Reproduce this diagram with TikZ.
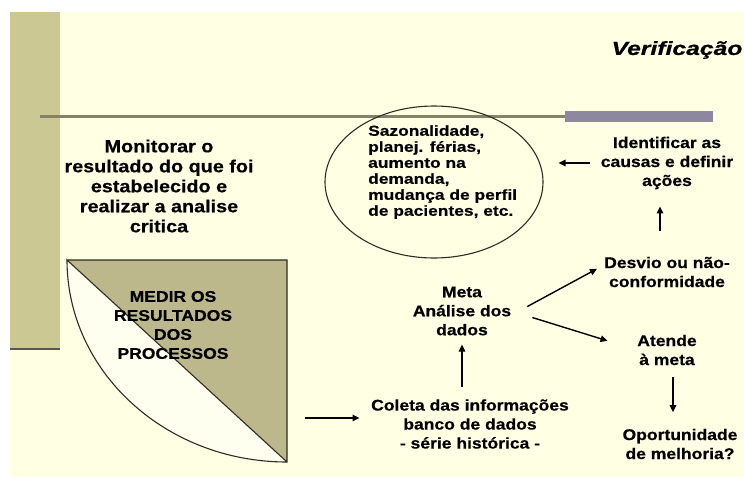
\documentclass[tikz,border=0pt]{standalone}
\usepackage{fontspec}
\setmainfont{Liberation Sans}[FakeStretch=1.13,FakeBold=0.5]
\newfontfamily\ellfont{Liberation Sans}[FakeStretch=1.2,FakeBold=0.5]
\newfontfamily\verfont{Liberation Sans}[FakeStretch=1.3,FakeBold=0.8]
\usetikzlibrary{arrows.meta,shapes.geometric}
\definecolor{bgc}{HTML}{FFFFE3}
\definecolor{barc}{HTML}{CCC894}
\definecolor{khaki}{HTML}{BDB88C}
\definecolor{segc}{HTML}{FFFFF0}
\definecolor{rulec}{HTML}{858367}
\definecolor{purp}{HTML}{8C88A0}
\definecolor{inkc}{HTML}{2E2C22}
\begin{document}
\begin{tikzpicture}[x=1pt,y=-1pt,
  txt/.style={inner sep=0pt, align=center, font=\bfseries\fontsize{15.5}{19}\selectfont},
  arr/.style={draw=black, line width=1.4pt, -{Triangle[length=7pt,width=6.5pt]}},
  outl/.style={draw=inkc, line width=1.1pt}]
\useasboundingbox (0,0) rectangle (744,477);
% background
\fill[white] (0,0) rectangle (744,477);
\fill[bgc] (10,12) rectangle (744,477);
% left bar
\fill[barc] (10,12) rectangle (60,350);
\draw[inkc!80, line width=1.8pt] (10,349) -- (60,349);
% rule
\draw[rulec, line width=3pt] (40,116) -- (566,116);
\fill[purp] (565,111) rectangle (713,122);
% title
\node[inner sep=0pt, font=\verfont\bfseries\itshape\fontsize{19}{22}\selectfont] (verif) at (677,50) {Verificação};
% left text
\node[txt, font=\bfseries\fontsize{17.5}{20}\selectfont] (monit) at (159,186) {Monitorar o\\resultado do que foi\\estabelecido e\\realizar a analise\\critica};
% ellipse
\node[ellipse, outl, minimum width=218pt, minimum height=152pt, inner sep=0pt] (ell) at (434,182) {};
\node[inner sep=0pt, anchor=west, align=left, font=\ellfont\bfseries\fontsize{14.5}{16}\selectfont] (elltxt) at (368,172) {Sazonalidade,\\planej. férias,\\aumento na\\demanda,\\mudança de perfil\\de pacientes, etc.};
% right texts
\node[txt] (ident) at (667,163) {Identificar as\\causas e definir\\ações};
\node[txt] (desvio) at (667,272) {Desvio ou não-\\conformidade};
\node[txt] (meta) at (462,311) {Meta\\Análise dos\\dados};
\node[txt] (atende) at (667,350) {Atende\\à meta};
\node[txt] (oport) at (680,444) {Oportunidade\\de melhoria?};
\node[txt] (coleta) at (470,424) {Coleta das informações\\banco de dados\\- série histórica -};
% quarter shape
\fill[khaki] (67,260) -- (287,260) -- (287,462) -- cycle;
\fill[segc] (67,260) .. controls (67,371.6) and (165.5,462) .. (287,462) -- cycle;
\draw[outl] (67,260) -- (287,260) -- (287,462) .. controls (165.5,462) and (67,371.6) .. (67,260) -- (287,462);
\node[txt] (medir) at (173,325) {MEDIR OS\\RESULTADOS\\DOS\\PROCESSOS};
\coordinate (qside) at (287,418);
% arrows
\draw[arr, shorten <=11pt, shorten >=15pt] (ident.west) -- (ident.west -| ell.east);
\draw[arr, shorten <=26pt, shorten >=17pt] ([xshift=-7pt]desvio.north) -- ([xshift=-7pt]ident.south);
\draw[arr, shorten <=13.6pt, shorten >=8pt] ([xshift=4pt,yshift=-2pt]meta.east) -- ([yshift=7pt]desvio.west);
\draw[arr, shorten <=22pt, shorten >=31pt] (meta.east) -- (atende.west);
\draw[arr, shorten <=11.5pt, shorten >=16.5pt] ([xshift=6pt]atende.south) -- ([xshift=-7pt]oport.north);
\draw[arr, shorten <=12pt, shorten >=9pt] ([xshift=-8pt]coleta.north) -- (meta.south);
\draw[arr, shorten <=18pt, shorten >=11.5pt] (qside) -- (qside -| coleta.west);
\end{tikzpicture}
\end{document}
